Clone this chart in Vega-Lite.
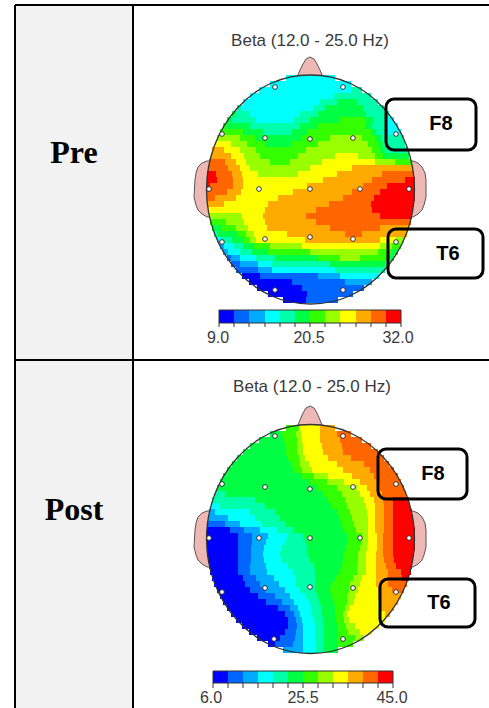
{"$schema":"https://vega.github.io/schema/vega-lite/v6.json","width":489,"height":708,"padding":0,"autosize":{"type":"none"},"background":"white","view":{"stroke":null},
"layer":[
{"data":{"values":[{"x":16,"x2":133,"y":6,"y2":708}]},"mark":{"type":"rect","fill":"#f2f2f2"},"encoding":{"x":{"field":"x","type":"quantitative","scale":{"domain":[0,489],"nice":false,"zero":false},"axis":null},"x2":{"field":"x2"},"y":{"field":"y","type":"quantitative","scale":{"domain":[708,0],"nice":false,"zero":false},"axis":null},"y2":{"field":"y2"}}},
{"data":{"values":[
{"e":"a","y":161,"x":207,"x2":212},{"e":"a","y":163,"x":202,"x2":212},{"e":"a","y":167,"x":198,"x2":212},{"e":"a","y":173,"x":196,"x2":212},{"e":"a","y":180,"x":195,"x2":212},{"e":"a","y":197,"x":194,"x2":212},{"e":"a","y":205,"x":196,"x2":212},{"e":"a","y":210,"x":198,"x2":212},{"e":"a","y":214,"x":202,"x2":212},{"e":"a","y":217,"x":207,"x2":212},
{"e":"b","y":161,"x":413,"x2":408},{"e":"b","y":163,"x":418,"x2":408},{"e":"b","y":167,"x":422,"x2":408},{"e":"b","y":173,"x":425,"x2":408},{"e":"b","y":180,"x":426,"x2":408},{"e":"b","y":197,"x":426,"x2":408},{"e":"b","y":205,"x":424,"x2":408},{"e":"b","y":210,"x":422,"x2":408},{"e":"b","y":214,"x":418,"x2":408},{"e":"b","y":217,"x":413,"x2":408},
{"e":"c","y":511,"x":207,"x2":212},{"e":"c","y":513,"x":202,"x2":212},{"e":"c","y":517,"x":198,"x2":212},{"e":"c","y":523,"x":196,"x2":212},{"e":"c","y":530,"x":195,"x2":212},{"e":"c","y":547,"x":194,"x2":212},{"e":"c","y":555,"x":196,"x2":212},{"e":"c","y":560,"x":198,"x2":212},{"e":"c","y":564,"x":202,"x2":212},{"e":"c","y":567,"x":207,"x2":212},
{"e":"d","y":511,"x":413,"x2":408},{"e":"d","y":513,"x":418,"x2":408},{"e":"d","y":517,"x":422,"x2":408},{"e":"d","y":523,"x":425,"x2":408},{"e":"d","y":530,"x":426,"x2":408},{"e":"d","y":547,"x":426,"x2":408},{"e":"d","y":555,"x":424,"x2":408},{"e":"d","y":560,"x":422,"x2":408},{"e":"d","y":564,"x":418,"x2":408},{"e":"d","y":567,"x":413,"x2":408}
]},"mark":{"type":"area","orient":"horizontal","fill":"#eeb9b5","stroke":"#555555","strokeWidth":1},"encoding":{"x":{"field":"x","type":"quantitative","axis":null},"x2":{"field":"x2"},"y":{"field":"y","type":"quantitative","axis":null},"detail":{"field":"e"}}},
{"data":{"values":[
{"n":"a","x":298,"y":75,"y2":80},{"n":"a","x":300,"y":70,"y2":80},{"n":"a","x":303,"y":64,"y2":80},{"n":"a","x":306,"y":59,"y2":80},{"n":"a","x":310,"y":57,"y2":80},{"n":"a","x":314,"y":59,"y2":80},{"n":"a","x":317,"y":64,"y2":80},{"n":"a","x":320,"y":70,"y2":80},{"n":"a","x":322,"y":75,"y2":80},
{"n":"b","x":298,"y":425,"y2":430},{"n":"b","x":300,"y":420,"y2":430},{"n":"b","x":303,"y":413,"y2":430},{"n":"b","x":306,"y":408,"y2":430},{"n":"b","x":310,"y":406,"y2":430},{"n":"b","x":314,"y":408,"y2":430},{"n":"b","x":317,"y":413,"y2":430},{"n":"b","x":320,"y":420,"y2":430},{"n":"b","x":322,"y":425,"y2":430}
]},"mark":{"type":"area","fill":"#eeb9b5","stroke":"#555555","strokeWidth":1},"encoding":{"x":{"field":"x","type":"quantitative","axis":null},"y":{"field":"y","type":"quantitative","axis":null},"y2":{"field":"y2"},"detail":{"field":"n"}}},
{"data":{"values":[
{"y":75,"y2":81,"x":286,"x2":335,"l":4},
{"y":81,"y2":87,"x":270,"x2":351,"l":4},
{"y":87,"y2":93,"x":259,"x2":352,"l":4},{"y":87,"y2":93,"x":352,"x2":362,"l":5},
{"y":93,"y2":99,"x":250,"x2":333,"l":4},{"y":93,"y2":99,"x":333,"x2":371,"l":5},
{"y":99,"y2":105,"x":243,"x2":320,"l":4},{"y":99,"y2":105,"x":320,"x2":337,"l":5},{"y":99,"y2":105,"x":337,"x2":357,"l":6},{"y":99,"y2":105,"x":357,"x2":378,"l":5},
{"y":105,"y2":111,"x":237,"x2":241,"l":5},{"y":105,"y2":111,"x":241,"x2":313,"l":4},{"y":105,"y2":111,"x":313,"x2":325,"l":5},{"y":105,"y2":111,"x":325,"x2":363,"l":6},{"y":105,"y2":111,"x":363,"x2":384,"l":5},
{"y":111,"y2":117,"x":232,"x2":236,"l":6},{"y":111,"y2":117,"x":236,"x2":250,"l":5},{"y":111,"y2":117,"x":250,"x2":300,"l":4},{"y":111,"y2":117,"x":300,"x2":318,"l":5},{"y":111,"y2":117,"x":318,"x2":366,"l":6},{"y":111,"y2":117,"x":366,"x2":389,"l":5},
{"y":117,"y2":123,"x":227,"x2":232,"l":6},{"y":117,"y2":123,"x":232,"x2":256,"l":5},{"y":117,"y2":123,"x":256,"x2":293,"l":4},{"y":117,"y2":123,"x":293,"x2":310,"l":5},{"y":117,"y2":123,"x":310,"x2":340,"l":6},{"y":117,"y2":123,"x":340,"x2":366,"l":7},{"y":117,"y2":123,"x":366,"x2":373,"l":6},{"y":117,"y2":123,"x":373,"x2":388,"l":5},{"y":117,"y2":123,"x":388,"x2":394,"l":4},
{"y":123,"y2":129,"x":223,"x2":226,"l":7},{"y":123,"y2":129,"x":226,"x2":250,"l":6},{"y":123,"y2":129,"x":250,"x2":300,"l":5},{"y":123,"y2":129,"x":300,"x2":318,"l":6},{"y":123,"y2":129,"x":318,"x2":365,"l":7},{"y":123,"y2":129,"x":365,"x2":372,"l":6},{"y":123,"y2":129,"x":372,"x2":388,"l":5},{"y":123,"y2":129,"x":388,"x2":398,"l":4},
{"y":129,"y2":135,"x":220,"x2":243,"l":7},{"y":129,"y2":135,"x":243,"x2":263,"l":6},{"y":129,"y2":135,"x":263,"x2":292,"l":5},{"y":129,"y2":135,"x":292,"x2":308,"l":6},{"y":129,"y2":135,"x":308,"x2":371,"l":7},{"y":129,"y2":135,"x":371,"x2":376,"l":6},{"y":129,"y2":135,"x":376,"x2":388,"l":5},{"y":129,"y2":135,"x":388,"x2":401,"l":4},
{"y":135,"y2":141,"x":217,"x2":240,"l":8},{"y":135,"y2":141,"x":240,"x2":255,"l":7},{"y":135,"y2":141,"x":255,"x2":301,"l":6},{"y":135,"y2":141,"x":301,"x2":330,"l":7},{"y":135,"y2":141,"x":330,"x2":362,"l":8},{"y":135,"y2":141,"x":362,"x2":375,"l":7},{"y":135,"y2":141,"x":375,"x2":381,"l":6},{"y":135,"y2":141,"x":381,"x2":404,"l":5},
{"y":141,"y2":147,"x":215,"x2":231,"l":9},{"y":141,"y2":147,"x":231,"x2":247,"l":8},{"y":141,"y2":147,"x":247,"x2":265,"l":7},{"y":141,"y2":147,"x":265,"x2":291,"l":6},{"y":141,"y2":147,"x":291,"x2":318,"l":7},{"y":141,"y2":147,"x":318,"x2":368,"l":8},{"y":141,"y2":147,"x":368,"x2":378,"l":7},{"y":141,"y2":147,"x":378,"x2":383,"l":6},{"y":141,"y2":147,"x":383,"x2":405,"l":5},
{"y":147,"y2":153,"x":212,"x2":224,"l":10},{"y":147,"y2":153,"x":224,"x2":240,"l":9},{"y":147,"y2":153,"x":240,"x2":256,"l":8},{"y":147,"y2":153,"x":256,"x2":306,"l":7},{"y":147,"y2":153,"x":306,"x2":372,"l":8},{"y":147,"y2":153,"x":372,"x2":380,"l":7},{"y":147,"y2":153,"x":380,"x2":385,"l":6},{"y":147,"y2":153,"x":385,"x2":408,"l":5},
{"y":153,"y2":159,"x":211,"x2":231,"l":10},{"y":153,"y2":159,"x":231,"x2":244,"l":9},{"y":153,"y2":159,"x":244,"x2":260,"l":8},{"y":153,"y2":159,"x":260,"x2":298,"l":7},{"y":153,"y2":159,"x":298,"x2":335,"l":8},{"y":153,"y2":159,"x":335,"x2":358,"l":9},{"y":153,"y2":159,"x":358,"x2":375,"l":8},{"y":153,"y2":159,"x":375,"x2":383,"l":7},{"y":153,"y2":159,"x":383,"x2":409,"l":6},
{"y":159,"y2":165,"x":209,"x2":225,"l":11},{"y":159,"y2":165,"x":225,"x2":236,"l":10},{"y":159,"y2":165,"x":236,"x2":246,"l":9},{"y":159,"y2":165,"x":246,"x2":270,"l":8},{"y":159,"y2":165,"x":270,"x2":290,"l":7},{"y":159,"y2":165,"x":290,"x2":322,"l":8},{"y":159,"y2":165,"x":322,"x2":375,"l":9},{"y":159,"y2":165,"x":375,"x2":395,"l":8},{"y":159,"y2":165,"x":395,"x2":411,"l":7},
{"y":165,"y2":171,"x":208,"x2":228,"l":11},{"y":165,"y2":171,"x":228,"x2":240,"l":10},{"y":165,"y2":171,"x":240,"x2":250,"l":9},{"y":165,"y2":171,"x":250,"x2":310,"l":8},{"y":165,"y2":171,"x":310,"x2":352,"l":9},{"y":165,"y2":171,"x":352,"x2":412,"l":10},
{"y":171,"y2":177,"x":207,"x2":216,"l":12},{"y":171,"y2":177,"x":216,"x2":232,"l":11},{"y":171,"y2":177,"x":232,"x2":242,"l":10},{"y":171,"y2":177,"x":242,"x2":258,"l":9},{"y":171,"y2":177,"x":258,"x2":298,"l":8},{"y":171,"y2":177,"x":298,"x2":337,"l":9},{"y":171,"y2":177,"x":337,"x2":382,"l":10},{"y":171,"y2":177,"x":382,"x2":414,"l":11},
{"y":177,"y2":183,"x":207,"x2":217,"l":12},{"y":177,"y2":183,"x":217,"x2":233,"l":11},{"y":177,"y2":183,"x":233,"x2":243,"l":10},{"y":177,"y2":183,"x":243,"x2":323,"l":9},{"y":177,"y2":183,"x":323,"x2":372,"l":10},{"y":177,"y2":183,"x":372,"x2":405,"l":11},{"y":177,"y2":183,"x":405,"x2":415,"l":12},
{"y":183,"y2":189,"x":207,"x2":210,"l":12},{"y":183,"y2":189,"x":210,"x2":233,"l":11},{"y":183,"y2":189,"x":233,"x2":243,"l":10},{"y":183,"y2":189,"x":243,"x2":307,"l":9},{"y":183,"y2":189,"x":307,"x2":363,"l":10},{"y":183,"y2":189,"x":363,"x2":387,"l":11},{"y":183,"y2":189,"x":387,"x2":415,"l":12},
{"y":189,"y2":195,"x":207,"x2":227,"l":11},{"y":189,"y2":195,"x":227,"x2":241,"l":10},{"y":189,"y2":195,"x":241,"x2":293,"l":9},{"y":189,"y2":195,"x":293,"x2":352,"l":10},{"y":189,"y2":195,"x":352,"x2":380,"l":11},{"y":189,"y2":195,"x":380,"x2":415,"l":12},
{"y":195,"y2":201,"x":207,"x2":215,"l":11},{"y":195,"y2":201,"x":215,"x2":236,"l":10},{"y":195,"y2":201,"x":236,"x2":278,"l":9},{"y":195,"y2":201,"x":278,"x2":343,"l":10},{"y":195,"y2":201,"x":343,"x2":374,"l":11},{"y":195,"y2":201,"x":374,"x2":415,"l":12},
{"y":201,"y2":207,"x":207,"x2":224,"l":10},{"y":201,"y2":207,"x":224,"x2":268,"l":9},{"y":201,"y2":207,"x":268,"x2":329,"l":10},{"y":201,"y2":207,"x":329,"x2":371,"l":11},{"y":201,"y2":207,"x":371,"x2":414,"l":12},
{"y":207,"y2":213,"x":208,"x2":265,"l":9},{"y":207,"y2":213,"x":265,"x2":316,"l":10},{"y":207,"y2":213,"x":316,"x2":372,"l":11},{"y":207,"y2":213,"x":372,"x2":413,"l":12},
{"y":213,"y2":219,"x":209,"x2":242,"l":8},{"y":213,"y2":219,"x":242,"x2":263,"l":9},{"y":213,"y2":219,"x":263,"x2":306,"l":10},{"y":213,"y2":219,"x":306,"x2":380,"l":11},{"y":213,"y2":219,"x":380,"x2":412,"l":12},
{"y":219,"y2":225,"x":210,"x2":226,"l":7},{"y":219,"y2":225,"x":226,"x2":244,"l":8},{"y":219,"y2":225,"x":244,"x2":265,"l":9},{"y":219,"y2":225,"x":265,"x2":316,"l":10},{"y":219,"y2":225,"x":316,"x2":411,"l":11},
{"y":225,"y2":231,"x":212,"x2":221,"l":6},{"y":225,"y2":231,"x":221,"x2":236,"l":7},{"y":225,"y2":231,"x":236,"x2":248,"l":8},{"y":225,"y2":231,"x":248,"x2":267,"l":9},{"y":225,"y2":231,"x":267,"x2":330,"l":10},{"y":225,"y2":231,"x":330,"x2":380,"l":11},{"y":225,"y2":231,"x":380,"x2":409,"l":10},
{"y":231,"y2":237,"x":214,"x2":218,"l":5},{"y":231,"y2":237,"x":218,"x2":237,"l":6},{"y":231,"y2":237,"x":237,"x2":246,"l":7},{"y":231,"y2":237,"x":246,"x2":254,"l":8},{"y":231,"y2":237,"x":254,"x2":287,"l":9},{"y":231,"y2":237,"x":287,"x2":345,"l":10},{"y":231,"y2":237,"x":345,"x2":362,"l":11},{"y":231,"y2":237,"x":362,"x2":407,"l":10},
{"y":237,"y2":243,"x":217,"x2":221,"l":4},{"y":237,"y2":243,"x":221,"x2":232,"l":5},{"y":237,"y2":243,"x":232,"x2":243,"l":6},{"y":237,"y2":243,"x":243,"x2":250,"l":7},{"y":237,"y2":243,"x":250,"x2":256,"l":8},{"y":237,"y2":243,"x":256,"x2":305,"l":9},{"y":237,"y2":243,"x":305,"x2":380,"l":10},{"y":237,"y2":243,"x":380,"x2":396,"l":9},{"y":237,"y2":243,"x":396,"x2":404,"l":8},
{"y":243,"y2":249,"x":220,"x2":224,"l":3},{"y":243,"y2":249,"x":224,"x2":234,"l":4},{"y":243,"y2":249,"x":234,"x2":243,"l":5},{"y":243,"y2":249,"x":243,"x2":254,"l":6},{"y":243,"y2":249,"x":254,"x2":270,"l":7},{"y":243,"y2":249,"x":270,"x2":302,"l":8},{"y":243,"y2":249,"x":302,"x2":380,"l":9},{"y":243,"y2":249,"x":380,"x2":392,"l":8},{"y":243,"y2":249,"x":392,"x2":401,"l":7},
{"y":249,"y2":255,"x":223,"x2":228,"l":3},{"y":249,"y2":255,"x":228,"x2":240,"l":4},{"y":249,"y2":255,"x":240,"x2":252,"l":5},{"y":249,"y2":255,"x":252,"x2":268,"l":6},{"y":249,"y2":255,"x":268,"x2":310,"l":7},{"y":249,"y2":255,"x":310,"x2":378,"l":8},{"y":249,"y2":255,"x":378,"x2":392,"l":7},{"y":249,"y2":255,"x":392,"x2":398,"l":6},
{"y":255,"y2":261,"x":227,"x2":231,"l":2},{"y":255,"y2":261,"x":231,"x2":240,"l":3},{"y":255,"y2":261,"x":240,"x2":256,"l":4},{"y":255,"y2":261,"x":256,"x2":275,"l":5},{"y":255,"y2":261,"x":275,"x2":318,"l":6},{"y":255,"y2":261,"x":318,"x2":340,"l":7},{"y":255,"y2":261,"x":340,"x2":360,"l":8},{"y":255,"y2":261,"x":360,"x2":385,"l":7},{"y":255,"y2":261,"x":385,"x2":394,"l":6},
{"y":261,"y2":267,"x":231,"x2":240,"l":2},{"y":261,"y2":267,"x":240,"x2":258,"l":3},{"y":261,"y2":267,"x":258,"x2":272,"l":4},{"y":261,"y2":267,"x":272,"x2":330,"l":5},{"y":261,"y2":267,"x":330,"x2":385,"l":6},{"y":261,"y2":267,"x":385,"x2":390,"l":5},
{"y":267,"y2":273,"x":236,"x2":258,"l":2},{"y":267,"y2":273,"x":258,"x2":272,"l":3},{"y":267,"y2":273,"x":272,"x2":335,"l":4},{"y":267,"y2":273,"x":335,"x2":385,"l":5},
{"y":273,"y2":279,"x":242,"x2":260,"l":1},{"y":273,"y2":279,"x":260,"x2":318,"l":2},{"y":273,"y2":279,"x":318,"x2":340,"l":3},{"y":273,"y2":279,"x":340,"x2":379,"l":4},
{"y":279,"y2":285,"x":249,"x2":292,"l":1},{"y":279,"y2":285,"x":292,"x2":345,"l":2},{"y":279,"y2":285,"x":345,"x2":372,"l":3},
{"y":285,"y2":291,"x":257,"x2":302,"l":1},{"y":285,"y2":291,"x":302,"x2":364,"l":2},
{"y":291,"y2":297,"x":268,"x2":307,"l":1},{"y":291,"y2":297,"x":307,"x2":353,"l":2},
{"y":297,"y2":303,"x":283,"x2":306,"l":1},{"y":297,"y2":303,"x":306,"x2":338,"l":2},
{"y":425,"y2":431,"x":286,"x2":299,"l":7},{"y":425,"y2":431,"x":299,"x2":320,"l":9},{"y":425,"y2":431,"x":320,"x2":335,"l":10},
{"y":431,"y2":437,"x":270,"x2":281,"l":6},{"y":431,"y2":437,"x":281,"x2":296,"l":7},{"y":431,"y2":437,"x":296,"x2":301,"l":8},{"y":431,"y2":437,"x":301,"x2":320,"l":9},{"y":431,"y2":437,"x":320,"x2":337,"l":10},{"y":431,"y2":437,"x":337,"x2":351,"l":11},
{"y":437,"y2":443,"x":259,"x2":283,"l":6},{"y":437,"y2":443,"x":283,"x2":297,"l":7},{"y":437,"y2":443,"x":297,"x2":302,"l":8},{"y":437,"y2":443,"x":302,"x2":320,"l":9},{"y":437,"y2":443,"x":320,"x2":340,"l":10},{"y":437,"y2":443,"x":340,"x2":362,"l":11},
{"y":443,"y2":449,"x":250,"x2":285,"l":6},{"y":443,"y2":449,"x":285,"x2":297,"l":7},{"y":443,"y2":449,"x":297,"x2":303,"l":8},{"y":443,"y2":449,"x":303,"x2":322,"l":9},{"y":443,"y2":449,"x":322,"x2":342,"l":10},{"y":443,"y2":449,"x":342,"x2":371,"l":11},
{"y":449,"y2":455,"x":243,"x2":286,"l":6},{"y":449,"y2":455,"x":286,"x2":297,"l":7},{"y":449,"y2":455,"x":297,"x2":303,"l":8},{"y":449,"y2":455,"x":303,"x2":323,"l":9},{"y":449,"y2":455,"x":323,"x2":343,"l":10},{"y":449,"y2":455,"x":343,"x2":378,"l":11},
{"y":455,"y2":461,"x":237,"x2":288,"l":6},{"y":455,"y2":461,"x":288,"x2":299,"l":7},{"y":455,"y2":461,"x":299,"x2":305,"l":8},{"y":455,"y2":461,"x":305,"x2":328,"l":9},{"y":455,"y2":461,"x":328,"x2":351,"l":10},{"y":455,"y2":461,"x":351,"x2":384,"l":11},
{"y":461,"y2":467,"x":232,"x2":291,"l":6},{"y":461,"y2":467,"x":291,"x2":300,"l":7},{"y":461,"y2":467,"x":300,"x2":309,"l":8},{"y":461,"y2":467,"x":309,"x2":337,"l":9},{"y":461,"y2":467,"x":337,"x2":364,"l":10},{"y":461,"y2":467,"x":364,"x2":389,"l":11},
{"y":467,"y2":473,"x":227,"x2":293,"l":6},{"y":467,"y2":473,"x":293,"x2":302,"l":7},{"y":467,"y2":473,"x":302,"x2":312,"l":8},{"y":467,"y2":473,"x":312,"x2":343,"l":9},{"y":467,"y2":473,"x":343,"x2":370,"l":10},{"y":467,"y2":473,"x":370,"x2":394,"l":11},
{"y":473,"y2":479,"x":223,"x2":302,"l":6},{"y":473,"y2":479,"x":302,"x2":314,"l":7},{"y":473,"y2":479,"x":314,"x2":328,"l":8},{"y":473,"y2":479,"x":328,"x2":352,"l":9},{"y":473,"y2":479,"x":352,"x2":374,"l":10},{"y":473,"y2":479,"x":374,"x2":398,"l":11},
{"y":479,"y2":485,"x":220,"x2":310,"l":6},{"y":479,"y2":485,"x":310,"x2":327,"l":7},{"y":479,"y2":485,"x":327,"x2":344,"l":8},{"y":479,"y2":485,"x":344,"x2":360,"l":9},{"y":479,"y2":485,"x":360,"x2":377,"l":10},{"y":479,"y2":485,"x":377,"x2":401,"l":11},
{"y":485,"y2":491,"x":217,"x2":318,"l":6},{"y":485,"y2":491,"x":318,"x2":337,"l":7},{"y":485,"y2":491,"x":337,"x2":357,"l":8},{"y":485,"y2":491,"x":357,"x2":367,"l":9},{"y":485,"y2":491,"x":367,"x2":380,"l":10},{"y":485,"y2":491,"x":380,"x2":404,"l":11},
{"y":491,"y2":497,"x":215,"x2":225,"l":5},{"y":491,"y2":497,"x":225,"x2":323,"l":6},{"y":491,"y2":497,"x":323,"x2":342,"l":7},{"y":491,"y2":497,"x":342,"x2":360,"l":8},{"y":491,"y2":497,"x":360,"x2":370,"l":9},{"y":491,"y2":497,"x":370,"x2":382,"l":10},{"y":491,"y2":497,"x":382,"x2":406,"l":11},
{"y":497,"y2":503,"x":212,"x2":255,"l":5},{"y":497,"y2":503,"x":255,"x2":328,"l":6},{"y":497,"y2":503,"x":328,"x2":345,"l":7},{"y":497,"y2":503,"x":345,"x2":364,"l":8},{"y":497,"y2":503,"x":364,"x2":374,"l":9},{"y":497,"y2":503,"x":374,"x2":383,"l":10},{"y":497,"y2":503,"x":383,"x2":393,"l":11},{"y":497,"y2":503,"x":393,"x2":409,"l":12},
{"y":503,"y2":509,"x":211,"x2":220,"l":4},{"y":503,"y2":509,"x":220,"x2":265,"l":5},{"y":503,"y2":509,"x":265,"x2":332,"l":6},{"y":503,"y2":509,"x":332,"x2":347,"l":7},{"y":503,"y2":509,"x":347,"x2":366,"l":8},{"y":503,"y2":509,"x":366,"x2":375,"l":9},{"y":503,"y2":509,"x":375,"x2":384,"l":10},{"y":503,"y2":509,"x":384,"x2":393,"l":11},{"y":503,"y2":509,"x":393,"x2":410,"l":12},
{"y":509,"y2":515,"x":209,"x2":215,"l":3},{"y":509,"y2":515,"x":215,"x2":250,"l":4},{"y":509,"y2":515,"x":250,"x2":275,"l":5},{"y":509,"y2":515,"x":275,"x2":337,"l":6},{"y":509,"y2":515,"x":337,"x2":350,"l":7},{"y":509,"y2":515,"x":350,"x2":367,"l":8},{"y":509,"y2":515,"x":367,"x2":375,"l":9},{"y":509,"y2":515,"x":375,"x2":384,"l":10},{"y":509,"y2":515,"x":384,"x2":393,"l":11},{"y":509,"y2":515,"x":393,"x2":412,"l":12},
{"y":515,"y2":521,"x":208,"x2":228,"l":3},{"y":515,"y2":521,"x":228,"x2":255,"l":4},{"y":515,"y2":521,"x":255,"x2":280,"l":5},{"y":515,"y2":521,"x":280,"x2":339,"l":6},{"y":515,"y2":521,"x":339,"x2":352,"l":7},{"y":515,"y2":521,"x":352,"x2":368,"l":8},{"y":515,"y2":521,"x":368,"x2":375,"l":9},{"y":515,"y2":521,"x":375,"x2":384,"l":10},{"y":515,"y2":521,"x":384,"x2":393,"l":11},{"y":515,"y2":521,"x":393,"x2":413,"l":12},
{"y":521,"y2":527,"x":207,"x2":225,"l":2},{"y":521,"y2":527,"x":225,"x2":240,"l":3},{"y":521,"y2":527,"x":240,"x2":262,"l":4},{"y":521,"y2":527,"x":262,"x2":285,"l":5},{"y":521,"y2":527,"x":285,"x2":342,"l":6},{"y":521,"y2":527,"x":342,"x2":354,"l":7},{"y":521,"y2":527,"x":354,"x2":368,"l":8},{"y":521,"y2":527,"x":368,"x2":375,"l":9},{"y":521,"y2":527,"x":375,"x2":384,"l":10},{"y":521,"y2":527,"x":384,"x2":393,"l":11},{"y":521,"y2":527,"x":393,"x2":414,"l":12},
{"y":527,"y2":533,"x":207,"x2":230,"l":1},{"y":527,"y2":533,"x":230,"x2":244,"l":2},{"y":527,"y2":533,"x":244,"x2":260,"l":3},{"y":527,"y2":533,"x":260,"x2":277,"l":4},{"y":527,"y2":533,"x":277,"x2":294,"l":5},{"y":527,"y2":533,"x":294,"x2":344,"l":6},{"y":527,"y2":533,"x":344,"x2":356,"l":7},{"y":527,"y2":533,"x":356,"x2":368,"l":8},{"y":527,"y2":533,"x":368,"x2":375,"l":9},{"y":527,"y2":533,"x":375,"x2":384,"l":10},{"y":527,"y2":533,"x":384,"x2":393,"l":11},{"y":527,"y2":533,"x":393,"x2":415,"l":12},
{"y":533,"y2":539,"x":207,"x2":238,"l":1},{"y":533,"y2":539,"x":238,"x2":252,"l":2},{"y":533,"y2":539,"x":252,"x2":268,"l":3},{"y":533,"y2":539,"x":268,"x2":287,"l":4},{"y":533,"y2":539,"x":287,"x2":303,"l":5},{"y":533,"y2":539,"x":303,"x2":347,"l":6},{"y":533,"y2":539,"x":347,"x2":362,"l":7},{"y":533,"y2":539,"x":362,"x2":368,"l":8},{"y":533,"y2":539,"x":368,"x2":377,"l":9},{"y":533,"y2":539,"x":377,"x2":383,"l":10},{"y":533,"y2":539,"x":383,"x2":393,"l":11},{"y":533,"y2":539,"x":393,"x2":415,"l":12},
{"y":539,"y2":545,"x":207,"x2":238,"l":1},{"y":539,"y2":545,"x":238,"x2":252,"l":2},{"y":539,"y2":545,"x":252,"x2":266,"l":3},{"y":539,"y2":545,"x":266,"x2":285,"l":4},{"y":539,"y2":545,"x":285,"x2":305,"l":5},{"y":539,"y2":545,"x":305,"x2":347,"l":6},{"y":539,"y2":545,"x":347,"x2":362,"l":7},{"y":539,"y2":545,"x":362,"x2":368,"l":8},{"y":539,"y2":545,"x":368,"x2":377,"l":9},{"y":539,"y2":545,"x":377,"x2":383,"l":10},{"y":539,"y2":545,"x":383,"x2":393,"l":11},{"y":539,"y2":545,"x":393,"x2":415,"l":12},
{"y":545,"y2":551,"x":207,"x2":238,"l":1},{"y":545,"y2":551,"x":238,"x2":251,"l":2},{"y":545,"y2":551,"x":251,"x2":264,"l":3},{"y":545,"y2":551,"x":264,"x2":282,"l":4},{"y":545,"y2":551,"x":282,"x2":307,"l":5},{"y":545,"y2":551,"x":307,"x2":345,"l":6},{"y":545,"y2":551,"x":345,"x2":360,"l":7},{"y":545,"y2":551,"x":360,"x2":367,"l":8},{"y":545,"y2":551,"x":367,"x2":377,"l":9},{"y":545,"y2":551,"x":377,"x2":383,"l":10},{"y":545,"y2":551,"x":383,"x2":393,"l":11},{"y":545,"y2":551,"x":393,"x2":415,"l":12},
{"y":551,"y2":557,"x":207,"x2":238,"l":1},{"y":551,"y2":557,"x":238,"x2":251,"l":2},{"y":551,"y2":557,"x":251,"x2":263,"l":3},{"y":551,"y2":557,"x":263,"x2":280,"l":4},{"y":551,"y2":557,"x":280,"x2":307,"l":5},{"y":551,"y2":557,"x":307,"x2":343,"l":6},{"y":551,"y2":557,"x":343,"x2":358,"l":7},{"y":551,"y2":557,"x":358,"x2":366,"l":8},{"y":551,"y2":557,"x":366,"x2":376,"l":9},{"y":551,"y2":557,"x":376,"x2":383,"l":10},{"y":551,"y2":557,"x":383,"x2":393,"l":11},{"y":551,"y2":557,"x":393,"x2":414,"l":12},
{"y":557,"y2":563,"x":208,"x2":238,"l":1},{"y":557,"y2":563,"x":238,"x2":251,"l":2},{"y":557,"y2":563,"x":251,"x2":264,"l":3},{"y":557,"y2":563,"x":264,"x2":282,"l":4},{"y":557,"y2":563,"x":282,"x2":310,"l":5},{"y":557,"y2":563,"x":310,"x2":343,"l":6},{"y":557,"y2":563,"x":343,"x2":358,"l":7},{"y":557,"y2":563,"x":358,"x2":366,"l":8},{"y":557,"y2":563,"x":366,"x2":376,"l":9},{"y":557,"y2":563,"x":376,"x2":384,"l":10},{"y":557,"y2":563,"x":384,"x2":394,"l":11},{"y":557,"y2":563,"x":394,"x2":413,"l":12},
{"y":563,"y2":569,"x":209,"x2":238,"l":1},{"y":563,"y2":569,"x":238,"x2":250,"l":2},{"y":563,"y2":569,"x":250,"x2":266,"l":3},{"y":563,"y2":569,"x":266,"x2":288,"l":4},{"y":563,"y2":569,"x":288,"x2":314,"l":5},{"y":563,"y2":569,"x":314,"x2":342,"l":6},{"y":563,"y2":569,"x":342,"x2":357,"l":7},{"y":563,"y2":569,"x":357,"x2":366,"l":8},{"y":563,"y2":569,"x":366,"x2":376,"l":9},{"y":563,"y2":569,"x":376,"x2":386,"l":10},{"y":563,"y2":569,"x":386,"x2":396,"l":11},{"y":563,"y2":569,"x":396,"x2":412,"l":12},
{"y":569,"y2":575,"x":210,"x2":238,"l":1},{"y":569,"y2":575,"x":238,"x2":250,"l":2},{"y":569,"y2":575,"x":250,"x2":267,"l":3},{"y":569,"y2":575,"x":267,"x2":293,"l":4},{"y":569,"y2":575,"x":293,"x2":315,"l":5},{"y":569,"y2":575,"x":315,"x2":340,"l":6},{"y":569,"y2":575,"x":340,"x2":357,"l":7},{"y":569,"y2":575,"x":357,"x2":366,"l":8},{"y":569,"y2":575,"x":366,"x2":376,"l":9},{"y":569,"y2":575,"x":376,"x2":388,"l":10},{"y":569,"y2":575,"x":388,"x2":401,"l":11},{"y":569,"y2":575,"x":401,"x2":411,"l":12},
{"y":575,"y2":581,"x":212,"x2":243,"l":1},{"y":575,"y2":581,"x":243,"x2":256,"l":2},{"y":575,"y2":581,"x":256,"x2":274,"l":3},{"y":575,"y2":581,"x":274,"x2":296,"l":4},{"y":575,"y2":581,"x":296,"x2":315,"l":5},{"y":575,"y2":581,"x":315,"x2":335,"l":6},{"y":575,"y2":581,"x":335,"x2":353,"l":7},{"y":575,"y2":581,"x":353,"x2":362,"l":8},{"y":575,"y2":581,"x":362,"x2":376,"l":9},{"y":575,"y2":581,"x":376,"x2":388,"l":10},{"y":575,"y2":581,"x":388,"x2":402,"l":11},{"y":575,"y2":581,"x":402,"x2":409,"l":12},
{"y":581,"y2":587,"x":214,"x2":245,"l":1},{"y":581,"y2":587,"x":245,"x2":260,"l":2},{"y":581,"y2":587,"x":260,"x2":279,"l":3},{"y":581,"y2":587,"x":279,"x2":296,"l":4},{"y":581,"y2":587,"x":296,"x2":315,"l":5},{"y":581,"y2":587,"x":315,"x2":331,"l":6},{"y":581,"y2":587,"x":331,"x2":350,"l":7},{"y":581,"y2":587,"x":350,"x2":360,"l":8},{"y":581,"y2":587,"x":360,"x2":376,"l":9},{"y":581,"y2":587,"x":376,"x2":388,"l":10},{"y":581,"y2":587,"x":388,"x2":407,"l":11},
{"y":587,"y2":593,"x":217,"x2":250,"l":1},{"y":587,"y2":593,"x":250,"x2":265,"l":2},{"y":587,"y2":593,"x":265,"x2":285,"l":3},{"y":587,"y2":593,"x":285,"x2":300,"l":4},{"y":587,"y2":593,"x":300,"x2":315,"l":5},{"y":587,"y2":593,"x":315,"x2":330,"l":6},{"y":587,"y2":593,"x":330,"x2":349,"l":7},{"y":587,"y2":593,"x":349,"x2":358,"l":8},{"y":587,"y2":593,"x":358,"x2":378,"l":9},{"y":587,"y2":593,"x":378,"x2":392,"l":10},{"y":587,"y2":593,"x":392,"x2":404,"l":11},
{"y":593,"y2":599,"x":220,"x2":258,"l":1},{"y":593,"y2":599,"x":258,"x2":275,"l":2},{"y":593,"y2":599,"x":275,"x2":290,"l":3},{"y":593,"y2":599,"x":290,"x2":305,"l":4},{"y":593,"y2":599,"x":305,"x2":317,"l":5},{"y":593,"y2":599,"x":317,"x2":332,"l":6},{"y":593,"y2":599,"x":332,"x2":347,"l":7},{"y":593,"y2":599,"x":347,"x2":355,"l":8},{"y":593,"y2":599,"x":355,"x2":378,"l":9},{"y":593,"y2":599,"x":378,"x2":401,"l":10},
{"y":599,"y2":605,"x":223,"x2":266,"l":1},{"y":599,"y2":605,"x":266,"x2":282,"l":2},{"y":599,"y2":605,"x":282,"x2":294,"l":3},{"y":599,"y2":605,"x":294,"x2":309,"l":4},{"y":599,"y2":605,"x":309,"x2":319,"l":5},{"y":599,"y2":605,"x":319,"x2":334,"l":6},{"y":599,"y2":605,"x":334,"x2":347,"l":7},{"y":599,"y2":605,"x":347,"x2":354,"l":8},{"y":599,"y2":605,"x":354,"x2":380,"l":9},{"y":599,"y2":605,"x":380,"x2":398,"l":10},
{"y":605,"y2":611,"x":227,"x2":278,"l":1},{"y":605,"y2":611,"x":278,"x2":290,"l":2},{"y":605,"y2":611,"x":290,"x2":298,"l":3},{"y":605,"y2":611,"x":298,"x2":311,"l":4},{"y":605,"y2":611,"x":311,"x2":321,"l":5},{"y":605,"y2":611,"x":321,"x2":335,"l":6},{"y":605,"y2":611,"x":335,"x2":345,"l":7},{"y":605,"y2":611,"x":345,"x2":350,"l":8},{"y":605,"y2":611,"x":350,"x2":380,"l":9},{"y":605,"y2":611,"x":380,"x2":394,"l":10},
{"y":611,"y2":617,"x":231,"x2":285,"l":1},{"y":611,"y2":617,"x":285,"x2":294,"l":2},{"y":611,"y2":617,"x":294,"x2":300,"l":3},{"y":611,"y2":617,"x":300,"x2":312,"l":4},{"y":611,"y2":617,"x":312,"x2":322,"l":5},{"y":611,"y2":617,"x":322,"x2":335,"l":6},{"y":611,"y2":617,"x":335,"x2":343,"l":7},{"y":611,"y2":617,"x":343,"x2":347,"l":8},{"y":611,"y2":617,"x":347,"x2":385,"l":9},{"y":611,"y2":617,"x":385,"x2":390,"l":10},
{"y":617,"y2":623,"x":236,"x2":288,"l":1},{"y":617,"y2":623,"x":288,"x2":296,"l":2},{"y":617,"y2":623,"x":296,"x2":302,"l":3},{"y":617,"y2":623,"x":302,"x2":314,"l":4},{"y":617,"y2":623,"x":314,"x2":323,"l":5},{"y":617,"y2":623,"x":323,"x2":336,"l":6},{"y":617,"y2":623,"x":336,"x2":344,"l":7},{"y":617,"y2":623,"x":344,"x2":349,"l":8},{"y":617,"y2":623,"x":349,"x2":385,"l":9},
{"y":623,"y2":629,"x":242,"x2":288,"l":1},{"y":623,"y2":629,"x":288,"x2":297,"l":2},{"y":623,"y2":629,"x":297,"x2":303,"l":3},{"y":623,"y2":629,"x":303,"x2":315,"l":4},{"y":623,"y2":629,"x":315,"x2":323,"l":5},{"y":623,"y2":629,"x":323,"x2":337,"l":6},{"y":623,"y2":629,"x":337,"x2":346,"l":7},{"y":623,"y2":629,"x":346,"x2":355,"l":8},{"y":623,"y2":629,"x":355,"x2":379,"l":9},
{"y":629,"y2":635,"x":249,"x2":285,"l":1},{"y":629,"y2":635,"x":285,"x2":296,"l":2},{"y":629,"y2":635,"x":296,"x2":303,"l":3},{"y":629,"y2":635,"x":303,"x2":315,"l":4},{"y":629,"y2":635,"x":315,"x2":323,"l":5},{"y":629,"y2":635,"x":323,"x2":337,"l":6},{"y":629,"y2":635,"x":337,"x2":348,"l":7},{"y":629,"y2":635,"x":348,"x2":360,"l":8},{"y":629,"y2":635,"x":360,"x2":372,"l":9},
{"y":635,"y2":641,"x":257,"x2":280,"l":1},{"y":635,"y2":641,"x":280,"x2":295,"l":2},{"y":635,"y2":641,"x":295,"x2":303,"l":3},{"y":635,"y2":641,"x":303,"x2":315,"l":4},{"y":635,"y2":641,"x":315,"x2":323,"l":5},{"y":635,"y2":641,"x":323,"x2":337,"l":6},{"y":635,"y2":641,"x":337,"x2":355,"l":7},{"y":635,"y2":641,"x":355,"x2":364,"l":8},
{"y":641,"y2":647,"x":268,"x2":275,"l":1},{"y":641,"y2":647,"x":275,"x2":293,"l":2},{"y":641,"y2":647,"x":293,"x2":303,"l":3},{"y":641,"y2":647,"x":303,"x2":316,"l":4},{"y":641,"y2":647,"x":316,"x2":323,"l":5},{"y":641,"y2":647,"x":323,"x2":337,"l":6},{"y":641,"y2":647,"x":337,"x2":353,"l":7},
{"y":647,"y2":653,"x":283,"x2":303,"l":3},{"y":647,"y2":653,"x":303,"x2":316,"l":4},{"y":647,"y2":653,"x":316,"x2":323,"l":5},{"y":647,"y2":653,"x":323,"x2":338,"l":6},
{"y":310,"y2":323,"x":219,"x2":234,"l":1},{"y":310,"y2":323,"x":234,"x2":249,"l":2},{"y":310,"y2":323,"x":249,"x2":265,"l":3},{"y":310,"y2":323,"x":265,"x2":280,"l":4},{"y":310,"y2":323,"x":280,"x2":295,"l":5},{"y":310,"y2":323,"x":295,"x2":310,"l":6},{"y":310,"y2":323,"x":310,"x2":325,"l":7},{"y":310,"y2":323,"x":325,"x2":340,"l":8},{"y":310,"y2":323,"x":340,"x2":356,"l":9},{"y":310,"y2":323,"x":356,"x2":371,"l":10},{"y":310,"y2":323,"x":371,"x2":386,"l":11},{"y":310,"y2":323,"x":386,"x2":401,"l":12},
{"y":671,"y2":683,"x":213,"x2":228,"l":1},{"y":671,"y2":683,"x":228,"x2":243,"l":2},{"y":671,"y2":683,"x":243,"x2":258,"l":3},{"y":671,"y2":683,"x":258,"x2":273,"l":4},{"y":671,"y2":683,"x":273,"x2":288,"l":5},{"y":671,"y2":683,"x":288,"x2":303,"l":6},{"y":671,"y2":683,"x":303,"x2":318,"l":7},{"y":671,"y2":683,"x":318,"x2":333,"l":8},{"y":671,"y2":683,"x":333,"x2":348,"l":9},{"y":671,"y2":683,"x":348,"x2":363,"l":10},{"y":671,"y2":683,"x":363,"x2":378,"l":11},{"y":671,"y2":683,"x":378,"x2":393,"l":12}
]},"mark":{"type":"rect"},"encoding":{"x":{"field":"x","type":"quantitative","axis":null},"x2":{"field":"x2"},"y":{"field":"y","type":"quantitative","axis":null},"y2":{"field":"y2"},"color":{"field":"l","type":"ordinal","legend":null,"scale":{"domain":[1,2,3,4,5,6,7,8,9,10,11,12],"range":["#0000ff","#0066ff","#00aaff","#00ffff","#00ffaa","#00ff44","#33ff00","#99ff00","#ffff00","#ffaa00","#ff6600","#ff0000"]}}}},
{"data":{"values":[
{"h":"Pre","o":1,"x":310.5,"y":75},{"h":"Pre","o":2,"x":350.5,"y":83.5},{"h":"Pre","o":3,"x":384,"y":108.5},{"h":"Pre","o":4,"x":406.5,"y":145.5},{"h":"Pre","o":5,"x":414.5,"y":189.5},{"h":"Pre","o":6,"x":406.5,"y":233.5},{"h":"Pre","o":7,"x":384,"y":270.5},{"h":"Pre","o":8,"x":350.5,"y":295.5},{"h":"Pre","o":9,"x":310.5,"y":304},{"h":"Pre","o":10,"x":270.5,"y":295.5},{"h":"Pre","o":11,"x":237,"y":270.5},{"h":"Pre","o":12,"x":214.5,"y":233.5},{"h":"Pre","o":13,"x":206.5,"y":189.5},{"h":"Pre","o":14,"x":214.5,"y":145.5},{"h":"Pre","o":15,"x":237,"y":108.5},{"h":"Pre","o":16,"x":270.5,"y":83.5},
{"h":"Post","o":1,"x":310.5,"y":424.5},{"h":"Post","o":2,"x":350.5,"y":433},{"h":"Post","o":3,"x":384,"y":458},{"h":"Post","o":4,"x":406.5,"y":495},{"h":"Post","o":5,"x":414.5,"y":539},{"h":"Post","o":6,"x":406.5,"y":583},{"h":"Post","o":7,"x":384,"y":620},{"h":"Post","o":8,"x":350.5,"y":645},{"h":"Post","o":9,"x":310.5,"y":653.5},{"h":"Post","o":10,"x":270.5,"y":645},{"h":"Post","o":11,"x":237,"y":620},{"h":"Post","o":12,"x":214.5,"y":583},{"h":"Post","o":13,"x":206.5,"y":539},{"h":"Post","o":14,"x":214.5,"y":495},{"h":"Post","o":15,"x":237,"y":458},{"h":"Post","o":16,"x":270.5,"y":433}
]},"mark":{"type":"line","interpolate":"cardinal-closed","stroke":"#333333","strokeWidth":1.3},"encoding":{"x":{"field":"x","type":"quantitative","axis":null},"y":{"field":"y","type":"quantitative","axis":null},"detail":{"field":"h"},"order":{"field":"o"}}},
{"data":{"values":[
{"x":275,"y":87},{"x":343,"y":87},{"x":222,"y":134},{"x":265,"y":138},{"x":310,"y":139},{"x":353,"y":138},{"x":396,"y":134},{"x":209,"y":189},{"x":259,"y":189},{"x":310,"y":189},{"x":360,"y":189},{"x":409,"y":189},{"x":222,"y":242},{"x":265,"y":239},{"x":310,"y":237},{"x":353,"y":239},{"x":396,"y":242},{"x":275,"y":290},{"x":343,"y":290},
{"x":275,"y":436},{"x":343,"y":436},{"x":222,"y":484},{"x":265,"y":487},{"x":310,"y":489},{"x":353,"y":487},{"x":396,"y":484},{"x":209,"y":538},{"x":259,"y":538},{"x":310,"y":538},{"x":360,"y":538},{"x":409,"y":538},{"x":222,"y":592},{"x":265,"y":588},{"x":310,"y":587},{"x":353,"y":588},{"x":396,"y":592},{"x":274,"y":639},{"x":343,"y":639}
]},"mark":{"type":"point","shape":"circle","filled":true,"fill":"white","stroke":"#333333","strokeWidth":1,"size":22,"opacity":1},"encoding":{"x":{"field":"x","type":"quantitative","axis":null},"y":{"field":"y","type":"quantitative","axis":null}}},
{"data":{"values":[{"x":219,"x2":401,"y":310,"y2":323},{"x":213,"x2":393,"y":671,"y2":683}]},"mark":{"type":"rect","fill":null,"stroke":"#333333","strokeWidth":1},"encoding":{"x":{"field":"x","type":"quantitative","axis":null},"x2":{"field":"x2"},"y":{"field":"y","type":"quantitative","axis":null},"y2":{"field":"y2"}}},
{"data":{"values":[
{"x":219,"y":323,"y2":327},{"x":234,"y":323,"y2":327},{"x":249,"y":323,"y2":327},{"x":265,"y":323,"y2":327},{"x":280,"y":323,"y2":327},{"x":295,"y":323,"y2":327},{"x":310,"y":323,"y2":327},{"x":325,"y":323,"y2":327},{"x":340,"y":323,"y2":327},{"x":356,"y":323,"y2":327},{"x":371,"y":323,"y2":327},{"x":386,"y":323,"y2":327},{"x":401,"y":323,"y2":327},
{"x":213,"y":683,"y2":688},{"x":228,"y":683,"y2":688},{"x":243,"y":683,"y2":688},{"x":258,"y":683,"y2":688},{"x":273,"y":683,"y2":688},{"x":288,"y":683,"y2":688},{"x":303,"y":683,"y2":688},{"x":318,"y":683,"y2":688},{"x":333,"y":683,"y2":688},{"x":348,"y":683,"y2":688},{"x":363,"y":683,"y2":688},{"x":378,"y":683,"y2":688},{"x":393,"y":683,"y2":688}
]},"mark":{"type":"rule","stroke":"#333333","strokeWidth":1},"encoding":{"x":{"field":"x","type":"quantitative","axis":null},"y":{"field":"y","type":"quantitative","axis":null},"y2":{"field":"y2"}}},
{"data":{"values":[{"x":386,"x2":476,"y":99,"y2":150},{"x":388,"x2":483,"y":229,"y2":278},{"x":378,"x2":467,"y":449,"y2":499},{"x":380,"x2":475,"y":579,"y2":627}]},"mark":{"type":"rect","fill":null,"stroke":"#000000","strokeWidth":3,"cornerRadius":8},"encoding":{"x":{"field":"x","type":"quantitative","axis":null},"x2":{"field":"x2"},"y":{"field":"y","type":"quantitative","axis":null},"y2":{"field":"y2"}}},
{"data":{"values":[{"x":15,"x2":15,"y":5,"y2":708},{"x":133,"x2":133,"y":5,"y2":708},{"x":15,"x2":489,"y":5,"y2":5},{"x":15,"x2":489,"y":360,"y2":360}]},"mark":{"type":"rule","stroke":"#000000","strokeWidth":2},"encoding":{"x":{"field":"x","type":"quantitative","axis":null},"x2":{"field":"x2"},"y":{"field":"y","type":"quantitative","axis":null},"y2":{"field":"y2"}}},
{"data":{"values":[{"t":"Pre","x":74,"y":163},{"t":"Post","x":74,"y":520}]},"mark":{"type":"text","font":"Liberation Serif","fontWeight":"bold","fontSize":32,"align":"center","baseline":"alphabetic","fill":"#000000"},"encoding":{"x":{"field":"x","type":"quantitative","axis":null},"y":{"field":"y","type":"quantitative","axis":null},"text":{"field":"t"}}},
{"data":{"values":[{"t":"F8","x":441,"y":124},{"t":"T6","x":448,"y":254},{"t":"F8","x":433,"y":474},{"t":"T6","x":439,"y":603}]},"mark":{"type":"text","font":"Liberation Sans","fontWeight":"bold","fontSize":20,"align":"center","baseline":"middle","fill":"#000000"},"encoding":{"x":{"field":"x","type":"quantitative","axis":null},"y":{"field":"y","type":"quantitative","axis":null},"text":{"field":"t"}}},
{"data":{"values":[{"t":"Beta (12.0 - 25.0 Hz)","x":310,"y":41},{"t":"Beta (12.0 - 25.0 Hz)","x":312,"y":387}]},"mark":{"type":"text","font":"Liberation Sans","fontSize":17,"align":"center","baseline":"middle","fill":"#3a3a3a"},"encoding":{"x":{"field":"x","type":"quantitative","axis":null},"y":{"field":"y","type":"quantitative","axis":null},"text":{"field":"t"}}},
{"data":{"values":[{"t":"9.0","x":218,"y":338},{"t":"20.5","x":309,"y":338},{"t":"32.0","x":398,"y":338},{"t":"6.0","x":211,"y":698},{"t":"25.5","x":303,"y":698},{"t":"45.0","x":392,"y":698}]},"mark":{"type":"text","font":"Liberation Sans","fontSize":16,"align":"center","baseline":"middle","fill":"#3a3a3a"},"encoding":{"x":{"field":"x","type":"quantitative","axis":null},"y":{"field":"y","type":"quantitative","axis":null},"text":{"field":"t"}}}
]}
